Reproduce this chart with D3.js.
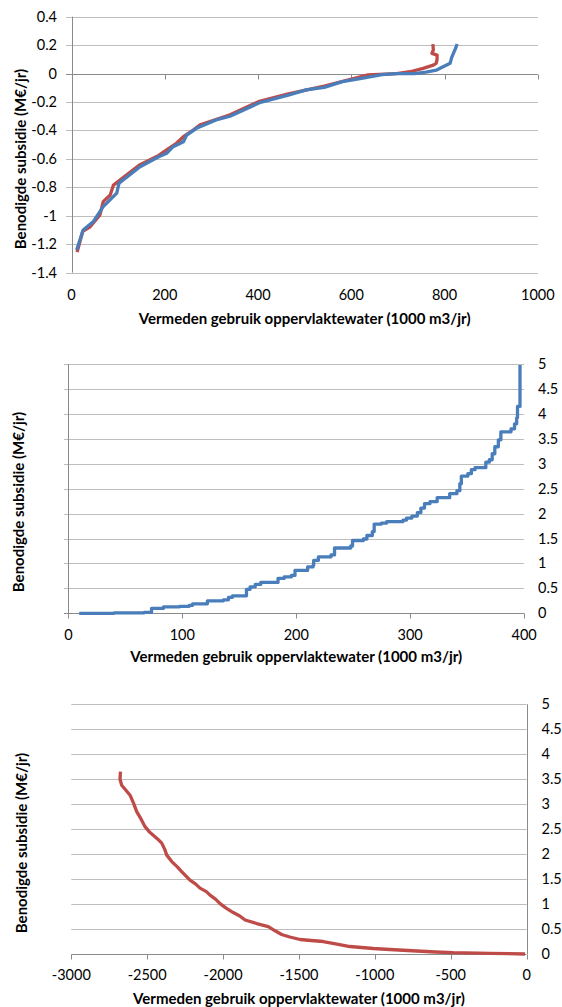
<!DOCTYPE html>
<html>
<head>
<meta charset="utf-8">
<script src="https://cdn.jsdelivr.net/npm/d3@7"></script>
<style>
  body { margin: 0; background: #fff; }
  svg text { font-family: Lato, "Open Sans", sans-serif; fill: #000; }
</style>
</head>
<body>
<div id="chart"></div>
<script>
// ---- data ----
// chart 1: two series
var topBlueX = [11, 25, 47, 68, 97, 102, 147, 187, 204, 218, 240, 247, 268, 310, 340, 403, 465, 503, 542, 581, 619, 666, 697, 735, 760, 783, 797, 812, 815, 819, 824, 827];
var topBlueY = [-1.24, -1.10, -1.04, -0.936, -0.84, -0.77, -0.655, -0.585, -0.56, -0.514, -0.48, -0.432, -0.385, -0.326, -0.30, -0.205, -0.151, -0.115, -0.097, -0.057, -0.036, -0.008, 0, 0, 0.01, 0.025, 0.048, 0.072, 0.11, 0.142, 0.18, 0.208];
var topRedX = [12, 24, 40, 61, 68, 83, 90, 147, 187, 204, 225, 240, 261, 276, 340, 403, 465, 542, 634, 697, 726, 754, 776, 782, 784, 784, 773, 776, 775];
var topRedY = [-1.255, -1.11, -1.077, -0.994, -0.90, -0.854, -0.784, -0.64, -0.575, -0.537, -0.49, -0.444, -0.397, -0.36, -0.29, -0.195, -0.143, -0.088, -0.01, 0, 0.013, 0.037, 0.06, 0.072, 0.1, 0.13, 0.142, 0.166, 0.208];

// chart 2: step curve (x where a step starts, new level)
var midX = [9.5, 40, 66.5, 73, 83.5, 97.5, 106, 109, 122, 136, 140.5, 144, 156.3, 159.5, 164, 168.8, 184, 189.4, 195.7, 198.9, 210, 214.7, 215.3, 219.4, 230.5, 233.6, 247.8, 249.4, 258.9, 262, 266.8, 268.4, 274.7, 279.4, 293.7, 296.8, 301.5, 306.3, 309.4, 312.6, 317.4, 323.7, 334.7, 341, 343.6, 344.9, 350.6, 353.7, 356.9, 366.4, 369.5, 372, 374.3, 377.4, 379.6, 388.5, 391.6, 393.5, 394.2, 396.4, 396.4];
var midY = [0, 0.01, 0.02, 0.1, 0.13, 0.14, 0.16, 0.19, 0.25, 0.27, 0.32, 0.35, 0.48, 0.53, 0.58, 0.62, 0.7, 0.73, 0.76, 0.86, 0.93, 0.96, 1.06, 1.13, 1.17, 1.31, 1.35, 1.46, 1.49, 1.56, 1.64, 1.79, 1.81, 1.84, 1.87, 1.91, 1.95, 2.02, 2.11, 2.2, 2.24, 2.32, 2.4, 2.46, 2.6, 2.75, 2.8, 2.88, 2.92, 3.03, 3.08, 3.2, 3.34, 3.48, 3.64, 3.7, 3.8, 3.92, 4.15, 4.2, 4.98];

// chart 3: one series
var botX = [-2676, -2679, -2668, -2640, -2613, -2590, -2569, -2540, -2514, -2487, -2460, -2430, -2404, -2385, -2371, -2338, -2300, -2273, -2218, -2180, -2152, -2110, -2086, -2050, -2020, -1980, -1933, -1890, -1855, -1778, -1702, -1660, -1614, -1560, -1493, -1420, -1340, -1250, -1164, -1010, -900, -724, -600, -483, -241, -10];
var botY = [3.65, 3.5, 3.38, 3.28, 3.18, 3.02, 2.85, 2.7, 2.55, 2.45, 2.38, 2.3, 2.22, 2.1, 1.98, 1.85, 1.74, 1.65, 1.48, 1.4, 1.32, 1.25, 1.18, 1.1, 1.01, 0.92, 0.83, 0.76, 0.68, 0.61, 0.55, 0.47, 0.39, 0.34, 0.29, 0.27, 0.25, 0.2, 0.15, 0.11, 0.09, 0.06, 0.04, 0.026, 0.014, 0];

var xTicks1 = [0, 200, 400, 600, 800, 1000];
var yTicks1 = [0.4, 0.2, 0, -0.2, -0.4, -0.6, -0.8, -1, -1.2, -1.4];
var xTicks2 = [0, 100, 200, 300, 400];
var xTicks3 = [-3000, -2500, -2000, -1500, -1000, -500, 0];
var yTicks23 = [0, 0.5, 1, 1.5, 2, 2.5, 3, 3.5, 4, 4.5, 5];

var xTitle = "Vermeden gebruik oppervlaktewater (1000 m3/jr)";
var yTitle1 = "Benodigde subsidie (M€/jr)";
var yTitle23 = "Benodigde subsidie  (M€/jr)";

var blue = "#4A7EBB", red = "#BE4B48";
var gridColor = "#BDBDBD", axisColor = "#8A8A8A";

var svg = d3.select("#chart").append("svg")
    .attr("width", 562)
    .attr("height", 1007);

function fmt(v) {
    return String(v);
}

function drawChart(c) {
    var x = d3.scaleLinear().domain(c.xDomain).range([c.left, c.right]);
    var y = d3.scaleLinear().domain(c.yDomain).range([c.bottom, c.top]);
    var g = svg.append("g");

    // gridlines
    g.selectAll(".grid")
        .data(c.yTicks)
        .enter()
        .append("line")
        .attr("x1", c.gridLeft)
        .attr("x2", c.right)
        .attr("y1", function(d) { return Math.round(y(d)) + 0.5; })
        .attr("y2", function(d) { return Math.round(y(d)) + 0.5; })
        .style("stroke", function(d) { return d === c.xCross ? axisColor : gridColor; })
        .style("stroke-width", 1);

    // vertical axis line
    var ax = Math.round(x(c.yCross)) + 0.5;
    g.append("line")
        .attr("x1", ax).attr("x2", ax)
        .attr("y1", c.top).attr("y2", c.bottom)
        .style("stroke", axisColor);

    // x ticks
    var ty = Math.round(y(c.xCross)) + 0.5;
    g.selectAll(".xtick")
        .data(c.xTicks)
        .enter()
        .append("line")
        .attr("x1", function(d) { return Math.round(x(d)) + 0.5; })
        .attr("x2", function(d) { return Math.round(x(d)) + 0.5; })
        .attr("y1", ty)
        .attr("y2", ty + 5)
        .style("stroke", axisColor);

    // x labels
    g.selectAll(".xlab")
        .data(c.xTicks)
        .enter()
        .append("text")
        .attr("x", function(d) { return x(d); })
        .attr("y", c.xLabelY)
        .attr("text-anchor", "middle")
        .style("font-size", "14.5px")
        .text(fmt);

    // y labels
    g.selectAll(".ylab")
        .data(c.yTicks)
        .enter()
        .append("text")
        .attr("x", c.yLabelX)
        .attr("y", function(d) { return y(d) + 5; })
        .attr("text-anchor", c.yLabelAnchor)
        .style("font-size", "14.5px")
        .text(fmt);

    // titles
    g.append("text")
        .attr("x", (c.left + c.right) / 2)
        .attr("y", c.xTitleY)
        .attr("text-anchor", "middle")
        .style("font-size", "15px")
        .style("font-weight", "bold")
        .text(xTitle);

    g.append("text")
        .attr("transform", "translate(" + c.yTitleX + "," + c.yTitleY + ") rotate(-90)")
        .attr("text-anchor", "middle")
        .style("font-size", "15px")
        .style("font-weight", "bold")
        .text(c.yTitle);

    // series
    c.series.forEach(function(s) {
        var line = d3.line()
            .x(function(d) { return x(d[0]); })
            .y(function(d) { return y(d[1]); })
            .curve(s.curve || d3.curveLinear);
        g.append("path")
            .datum(d3.zip(s.xs, s.ys))
            .attr("d", line)
            .style("fill", "none")
            .style("stroke", s.color)
            .style("stroke-width", 3.3)
            .style("stroke-linejoin", "round");
    });
}

drawChart({
    left: 71.5, right: 537.8, top: 16.7, bottom: 272.7,
    xDomain: [0, 1000], yDomain: [-1.4, 0.4],
    xTicks: xTicks1, yTicks: yTicks1,
    xCross: 0, yCross: 0, gridLeft: 66,
    xLabelY: 300, yLabelX: 57, yLabelAnchor: "end",
    xTitleY: 323.5, yTitleX: 25.5, yTitleY: 159, yTitle: yTitle1,
    series: [
        {xs: topRedX, ys: topRedY, color: red},
        {xs: topBlueX, ys: topBlueY, color: blue}
    ]
});

drawChart({
    left: 68.4, right: 524.1, top: 364, bottom: 613.3,
    xDomain: [0, 400], yDomain: [0, 5],
    xTicks: xTicks2, yTicks: yTicks23,
    xCross: 0, yCross: 0, gridLeft: 64,
    xLabelY: 639.5, yLabelX: 538, yLabelAnchor: "start",
    xTitleY: 662, yTitleX: 24, yTitleY: 502, yTitle: yTitle23,
    series: [
        {xs: midX, ys: midY, color: blue, curve: d3.curveStepAfter}
    ]
});

drawChart({
    left: 71.3, right: 526.6, top: 704.3, bottom: 954,
    xDomain: [-3000, 0], yDomain: [0, 5],
    xTicks: xTicks3, yTicks: yTicks23,
    xCross: 0, yCross: 0, gridLeft: 71.3,
    xLabelY: 979.5, yLabelX: 541.5, yLabelAnchor: "start",
    xTitleY: 1003.5, yTitleX: 27, yTitleY: 843, yTitle: yTitle23,
    series: [
        {xs: botX, ys: botY, color: red}
    ]
});
</script>
</body>
</html>
